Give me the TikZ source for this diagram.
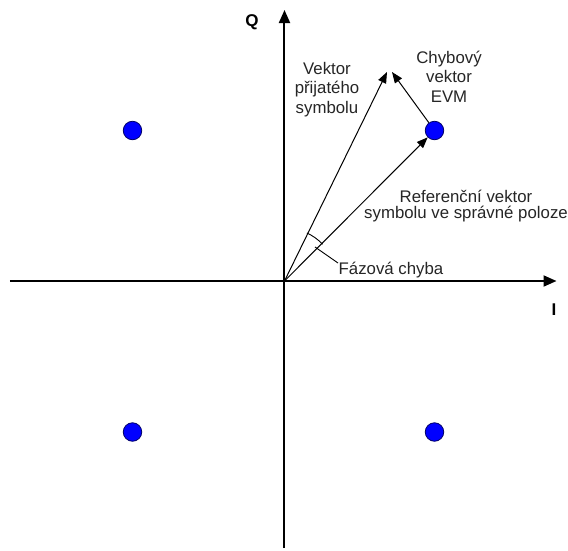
\documentclass[tikz,border=0pt]{standalone}
\usepackage{fontspec}
\setmainfont{Liberation Sans}
\usetikzlibrary{arrows.meta}
\begin{document}
\begin{tikzpicture}[x=1pt,y=1pt,
 axis/.style={line width=2pt, -{Triangle[length=13pt,width=11pt]}},
 vec/.style={line width=1pt, -{Triangle[length=11pt,width=8.5pt]}},
 thin line/.style={line width=0.9pt},
 dot/.style={circle, fill=blue, draw=black!60!blue, line width=0.8pt, minimum size=18.5pt, inner sep=0pt},
 lbl/.style={font=\fontsize{16.8}{19.5}\selectfont, align=center, inner sep=0pt, text=black!85},
 tightlbl/.style={font=\fontsize{16.8}{15.5}\selectfont, align=center, inner sep=0pt, text=black!85},
 axlbl/.style={font=\fontsize{17}{20}\selectfont\bfseries, inner sep=0pt}]
\useasboundingbox (-284.5,-269) rectangle (283.5,281);
\fill[white] (-284.5,-269) rectangle (283.5,281);
% axes
\coordinate (O) at (0,0);
\coordinate (xs) at (-274.5,0);
\coordinate (xe) at (272,0);
\coordinate (ys) at (0,-267);
\coordinate (ye) at (0,271);
\draw[axis] (xs) -- (xe);
\draw[axis] (ys) -- (ye);
\node[axlbl] (Q) at (-32.5,259) {Q};
\node[axlbl] (I) at (269.5,-29) {I};
% constellation points
\node[dot] (d1) at (150,150.5) {};
\node[dot] (d2) at (-152,150.5) {};
\node[dot] (d3) at (-152,-151) {};
\node[dot] (d4) at (150,-151) {};
% vectors
\coordinate (tipR) at (102.5,209);
\coordinate (tipE) at (107.5,209);
\draw[vec] (O) -- (tipR);
\draw[vec] (d1) -- (tipE);
\draw[vec] (O) -- (d1);
% phase error arc
\draw[thin line] (44:53) arc[start angle=44, end angle=65, radius=53];
\coordinate (p1) at (30.5,34);
\coordinate (p2) at (53.5,18);
\draw[thin line] (p1) -- (p2);
% labels
\node[lbl, anchor=base west] (phase) at (54,7) {Fázová chyba};
\node[lbl, anchor=north] (recv) at (42.5,219) {Vektor\\přijatého\\symbolu};
\node[lbl, anchor=north] (evm) at (164.5,230.5) {Chybový\\vektor\\EVM};
\node[tightlbl, anchor=north] (ref) at (181.5,91) {Referenční vektor\\symbolu ve správné poloze};
\end{tikzpicture}
\end{document}
